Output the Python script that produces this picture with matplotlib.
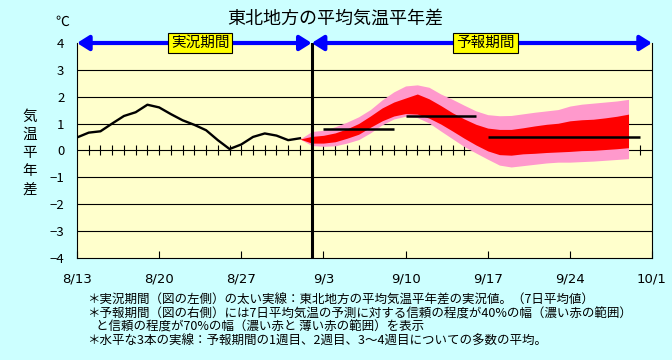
import numpy as np
import matplotlib.pyplot as plt

plt.rcParams['font.family'] = ['Noto Sans CJK JP', 'DejaVu Sans']

W, H = 672, 360

# x軸は 8/13 からの日数
date_labels = ['8/13', '8/20', '8/27', '9/3', '9/10', '9/17', '9/24', '10/1']
date_pos = [0, 7, 14, 21, 28, 35, 42, 49]

# 実況 (7日平均値)
obs_days = list(range(0, 20))
obs_vals = [0.48, 0.66, 0.71, 1.00, 1.28, 1.42, 1.70, 1.60, 1.35, 1.12,
            0.95, 0.75, 0.38, 0.05, 0.22, 0.50, 0.63, 0.55, 0.38, 0.45]

# 予報の幅
fc_days = list(range(19, 48))
pink_hi = [0.42, 0.70, 0.75, 0.88, 1.05, 1.25, 1.52, 1.88, 2.18, 2.40,
           2.44, 2.35, 2.10, 1.90, 1.68, 1.47, 1.33, 1.29, 1.30, 1.36,
           1.42, 1.47, 1.52, 1.65, 1.72, 1.76, 1.80, 1.84, 1.90]
red_hi = [0.42, 0.52, 0.56, 0.65, 0.80, 1.00, 1.28, 1.58, 1.80, 1.95,
          2.10, 1.92, 1.67, 1.40, 1.17, 0.97, 0.83, 0.78, 0.78, 0.84,
          0.91, 0.97, 1.01, 1.10, 1.14, 1.16, 1.21, 1.27, 1.35]
red_lo = [0.42, 0.27, 0.27, 0.32, 0.45, 0.60, 0.86, 1.10, 1.28, 1.37,
          1.35, 1.20, 0.98, 0.72, 0.45, 0.20, -0.02, -0.16, -0.18, -0.13,
          -0.11, -0.08, -0.06, -0.04, -0.01, 0.00, 0.03, 0.06, 0.10]
pink_lo = [0.42, 0.18, 0.15, 0.17, 0.27, 0.40, 0.65, 0.95, 1.17, 1.27,
           1.22, 1.02, 0.72, 0.43, 0.14, -0.10, -0.33, -0.55, -0.62, -0.57,
           -0.52, -0.47, -0.44, -0.44, -0.42, -0.40, -0.37, -0.34, -0.31]

# 1週目、2週目、3～4週目の平均
week_start = [21, 28, 35]
week_end = [27, 34, 48]
week_mean = [0.80, 1.28, 0.50]

zero_ticks = list(range(1, 34)) + [48]
split_day = 20

fig = plt.figure(figsize=(W / 100, H / 100), dpi=100, facecolor='#CCFFFF')
ax = fig.add_axes([77 / W, 1 - 257.7 / H, (652 - 77) / W, (257.7 - 43) / H])
ax.set_facecolor('#FFFFCC')
ax.set_xlim(0, 49)
ax.set_ylim(-4, 4)

for v in range(-3, 4):
    ax.axhline(v, color='black', lw=0.8, zorder=1)
ax.vlines(zero_ticks, -0.19, 0.19, color='black', lw=0.8, zorder=1)

ax.fill_between(fc_days, pink_lo, pink_hi, color='#FF99CC', lw=0, zorder=2)
ax.fill_between(fc_days, red_lo, red_hi, color='#FF0000', lw=0, zorder=3)
ax.plot(obs_days, obs_vals, color='black', lw=1.7, zorder=4)
ax.hlines(week_mean, week_start, week_end, color='black', lw=1.8, zorder=5)
ax.axvline(split_day, color='black', lw=2.2, zorder=5)

# 期間を示す矢印
arr = dict(arrowstyle='<|-|>,head_length=0.35,head_width=0.22', color='#0000FF',
           lw=3, shrinkA=0, shrinkB=0, mutation_scale=20)
ax.annotate('', xy=(0, 4), xytext=(split_day, 4), arrowprops=arr,
            annotation_clip=False, zorder=6)
ax.annotate('', xy=(split_day, 4), xytext=(49, 4), arrowprops=arr,
            annotation_clip=False, zorder=6)
box = dict(boxstyle='square,pad=0.2', fc='#FFFF00', ec='black', lw=0.8)
ax.text(10.5, 4, '実況期間', ha='center', va='center', fontsize=10.5, bbox=box, zorder=7)
ax.text(34.8, 4, '予報期間', ha='center', va='center', fontsize=10.5, bbox=box, zorder=7)

ax.set_yticks(range(-4, 5))
ax.set_yticklabels([str(v).replace('-', '\u2212') for v in range(-4, 5)])
ax.tick_params(axis='y', length=0, pad=9, labelsize=9.5)
ax.set_xticks(date_pos)
ax.set_xticklabels(date_labels, family=['DejaVu Sans'])
ax.tick_params(axis='x', direction='in', length=5, width=0.8, pad=11, labelsize=9.5)
for s in ax.spines.values():
    s.set_linewidth(0.8)
ax.spines['top'].set_visible(False)

fig.text(335 / W, 1 - 19 / H, '東北地方の平均気温平年差', ha='center', va='center', fontsize=13)
fig.text(62 / W, 1 - 22 / H, '℃', ha='center', va='center', fontsize=10)
for ch, yy in zip('気温平年差', [117, 135, 153, 171, 190]):
    fig.text(30 / W, 1 - yy / H, ch, ha='center', va='center', fontsize=10.5)

notes = [
    (87, 300, '＊実況期間（図の左側）の太い実線：東北地方の平均気温平年差の実況値。（7日平均値）'),
    (87, 314, '＊予報期間（図の右側）には7日平均気温の予測に対する信頼の程度が40%の幅（濃い赤の範囲）'),
    (96, 327, 'と信頼の程度が70%の幅（濃い赤と 薄い赤の範囲）を表示'),
    (87, 341, '＊水平な3本の実線：予報期間の1週目、2週目、3～4週目についての多数の平均。'),
]
for xx, yy, t in notes:
    fig.text(xx / W, 1 - yy / H, t, ha='left', va='center', fontsize=9)

fig.savefig('out.png', dpi=100, facecolor=fig.get_facecolor())
